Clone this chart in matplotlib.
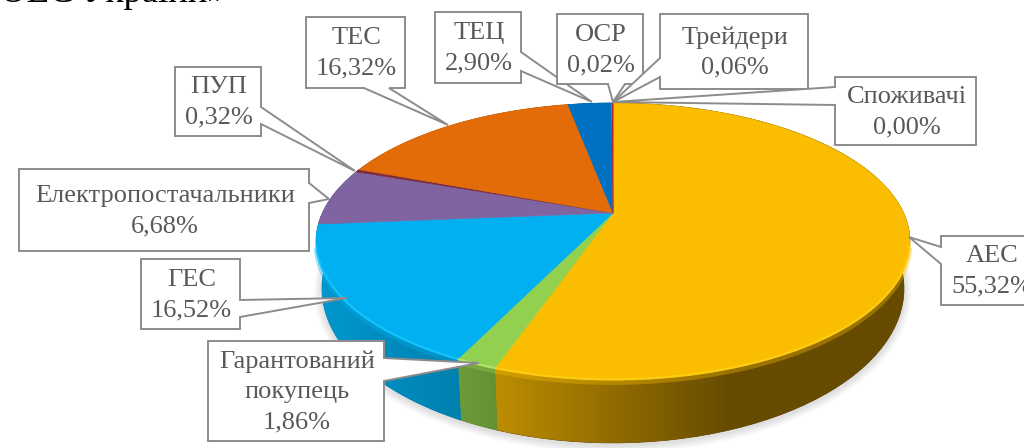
import numpy as np
import matplotlib
matplotlib.use('Agg')
import matplotlib.pyplot as plt
from matplotlib.patches import Polygon, Ellipse
from matplotlib.transforms import Transform
from matplotlib.colors import to_rgb

# Data
names = ['АЕС', 'Гарантований\nпокупець', 'ГЕС', 'Електропостачальники', 'ПУП',
         'ТЕС', 'ТЕЦ', 'ОСР', 'Трейдери', 'Споживачі']
shares = [55.32, 1.86, 16.52, 6.68, 0.32, 16.32, 2.90, 0.02, 0.06, 0.00]

top_colors = ['#FABD00', '#92D050', '#00B0F0', '#8064A2', '#7B2C3F',
              '#E36C09', '#0070C0', '#5B9BD5', '#A5324A', '#C00000']
wall_left = ['#BC8C00', '#6C9A38', '#0098CF', '#5F4A7A', '#5C2030',
             '#A85007', '#00538E', '#44749F', '#44749F', '#900000']
wall_right = ['#664B00', '#648F33', '#007FAD', '#5F4A7A', '#5C2030',
              '#A85007', '#00538E', '#44749F', '#44749F', '#900000']
wall_span = [(498, 730), (463, 500), (316, 465), (316, 360), (350, 360),
             (355, 570), (565, 615), (610, 615), (610, 615), (610, 615)]
bevel_colors = ['#FFD21A', '#B4EA6E', '#1AC8FF', '#9C80BE', '#7B2C3F',
                '#E36C09', '#0070C0', '#5B9BD5', '#5B9BD5', '#C00000']

# label box (x0, y0, x1, y1), pointer base and tip, in pixels of the picture
boxes = [(941, 236, 1040, 305), (208, 341, 384, 441), (141, 259, 240, 329),
         (19, 169, 309, 251), (175, 67, 261, 136), (306, 17, 405, 88),
         (435, 12, 521, 83), (557, 14, 643, 84), (660, 14, 808, 89),
         (835, 77, 976, 145)]
pointers = [[(941, 247), (909, 237), (941, 264)],
            [(384, 358), (479, 363), (384, 381)],
            [(240, 300), (347, 298), (240, 317)],
            [(309, 183), (329, 199), (309, 203)],
            [(261, 107), (355, 171), (261, 124)],
            [(364, 88), (448, 125), (389, 88)],
            [(521, 52), (592, 102), (521, 71)],
            [(608, 84), (613, 102), (625, 84)],
            [(660, 58), (613, 102), (660, 77)],
            [(835, 87), (613, 102), (835, 105)]]


class Tilt(Transform):
    # unit circle seen in perspective, gives picture pixels
    input_dims = 2
    output_dims = 2

    def transform_non_affine(self, xy):
        xy = np.asarray(xy)
        d = 1 + 0.2058 * xy[:, 1]
        return np.column_stack([613 + 290.6 * xy[:, 0] / d, 213 - 132.6 * xy[:, 1] / d])


tilt = Tilt()


def rim_points(theta1, theta2):
    t = np.radians(np.linspace(theta1, theta2, 80))
    return tilt.transform_non_affine(np.column_stack([np.cos(t), np.sin(t)]))


def lower_points(pts):
    # same rim on the bottom face of the pie
    return np.column_stack([613 + (pts[:, 0] - 613) * 0.98, 288 + (pts[:, 1] - 241) * 1.115])


fig = plt.figure(figsize=(10.24, 4.48), dpi=100)
ax = fig.add_axes([0, 0, 1, 1])

wedges, _ = ax.pie(shares, startangle=90, counterclock=False, colors=top_colors)

# soft shadow
for g in np.arange(1, 9):
    ax.add_patch(Ellipse((613, 291), 2 * (291 + g), 2 * (154 + g), fc='black', ec='none',
                         alpha=0.016, zorder=0.5))

# side wall of each slice
xs = np.arange(300, 925)
for i, w in enumerate(wedges):
    if shares[i] == 0:
        continue
    rim = rim_points(w.theta1, w.theta2)
    low = lower_points(rim)
    outline = Polygon(np.vstack([rim, low[::-1]]), fc=wall_right[i], ec=wall_right[i], lw=0.5, zorder=1)
    ax.add_patch(outline)
    x0, x1 = wall_span[i]
    left, right = np.array(to_rgb(wall_left[i])), np.array(to_rgb(wall_right[i]))
    mix = np.clip((xs - x0) / (x1 - x0), 0, 1)[:, None]
    grad = (left * (1 - mix) + right * mix)[None, :, :]
    img = ax.imshow(grad, extent=(300, 925, 448, 0), aspect='auto', zorder=1, interpolation='bilinear')
    img.set_clip_path(outline)

# top face and its light edge
for i, w in enumerate(wedges):
    w.set_transform(tilt + ax.transData)
    w.set_zorder(2)
    w.set_edgecolor(top_colors[i])
    w.set_linewidth(0.4)
    rim = rim_points(w.theta1, w.theta2)
    front = rim[:, 1] > 245
    if front.any():
        ax.plot(rim[front, 0], rim[front, 1] + 2.5, color=top_colors[i], lw=3.5, alpha=0.35,
                solid_capstyle='butt', zorder=1.5)
        ax.plot(rim[front, 0], rim[front, 1] - 0.5, color=bevel_colors[i], lw=1.6, alpha=0.8,
                solid_capstyle='butt', zorder=3)

# callouts
for i, name in enumerate(names):
    x0, y0, x1, y1 = boxes[i]
    a, tip, b = pointers[i]
    if a[0] == x0:
        pts = [(x0, y0), (x1, y0), (x1, y1), (x0, y1), b, tip, a]
    elif a[0] == x1:
        pts = [(x0, y0), (x1, y0), a, tip, b, (x1, y1), (x0, y1)]
    else:
        pts = [(x0, y0), (x1, y0), (x1, y1), b, tip, a, (x0, y1)]
    ax.add_patch(Polygon(pts, fc='white', ec='#8C8C8C', lw=1.4, joinstyle='miter', zorder=4))
    label = name + '\n' + f'{shares[i]:.2f}'.replace('.', ',') + '%'
    cx = (x0 + x1) / 2 + 1
    if i == 0:
        cx = 992
    ax.text(cx, (y0 + y1) / 2 + 1, label, ha='center', va='center', family='Liberation Serif',
            fontsize=19, color='#595959', linespacing=1.48, zorder=5)

# cut off heading line above the chart
ax.text(0, 2.5, 'ОЕС України»', family='Liberation Serif', fontsize=26.5, color='black',
        ha='left', va='baseline', zorder=5)

ax.set_aspect('auto')
ax.set_xlim(0, 1024)
ax.set_ylim(448, 0)
ax.axis('off')
fig.savefig('out.png', dpi=100)
